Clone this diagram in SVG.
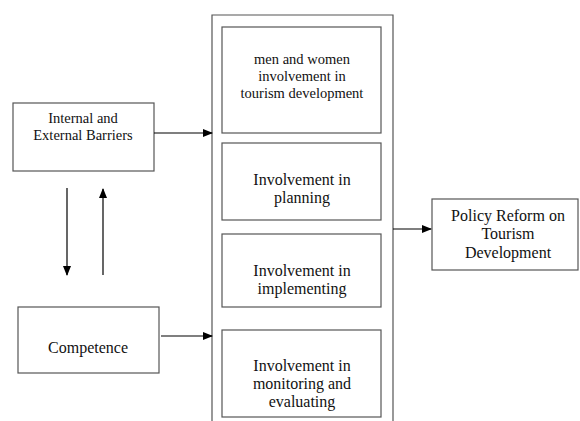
<svg xmlns="http://www.w3.org/2000/svg" width="580" height="421" viewBox="0 0 580 421">
<defs>
<marker id="ah" markerWidth="10" markerHeight="8" refX="9" refY="4" orient="auto" markerUnits="userSpaceOnUse">
<path d="M0,0 L10,4 L0,8 Z" fill="#000"/>
</marker>
<style>
.box{fill:#fff;stroke:#555;stroke-width:1.2}
.t{font-family:"Liberation Serif","Times New Roman",serif;fill:#111;text-anchor:middle}
.s{font-size:14.5px}
.l{font-size:16px}
.c{stroke:#000;stroke-width:1.2;fill:none;marker-end:url(#ah)}
</style>
</defs>
<rect width="580" height="421" fill="#fff"/>
<g id="container"><path class="box" d="M212,421 V15 H393 V421"/></g>
<g id="barriers"><rect class="box" x="13" y="103" width="141" height="68"/>
<text class="t s" x="83" y="123">Internal and</text><text class="t s" x="83" y="140">External Barriers</text></g>
<g id="competence"><rect class="box" x="18" y="307" width="141" height="66"/>
<text class="t l" x="88" y="353">Competence</text></g>
<g id="b1"><rect class="box" x="222" y="27" width="159" height="106"/>
<text class="t s" x="302" y="64">men and women</text><text class="t s" x="302" y="81">involvement in</text><text class="t s" x="302" y="98">tourism development</text></g>
<g id="b2"><rect class="box" x="222" y="143" width="159" height="77"/>
<text class="t l" x="302" y="185">Involvement in</text><text class="t l" x="302" y="203">planning</text></g>
<g id="b3"><rect class="box" x="222" y="234" width="159" height="73"/>
<text class="t l" x="302" y="276">Involvement in</text><text class="t l" x="302" y="294">implementing</text></g>
<g id="b4"><rect class="box" x="222" y="330" width="159" height="87"/>
<text class="t l" x="302" y="371">Involvement in</text><text class="t l" x="302" y="389">monitoring and</text><text class="t l" x="302" y="407">evaluating</text></g>
<g id="policy"><rect class="box" x="432" y="199" width="146" height="71"/>
<text class="t l" x="508" y="221">Policy Reform on</text><text class="t l" x="508" y="239">Tourism</text><text class="t l" x="508" y="258">Development</text></g>
<g id="connectors">
<line class="c" x1="154" y1="133" x2="212" y2="133"/>
<line class="c" x1="161" y1="336" x2="212" y2="336"/>
<line class="c" x1="67" y1="188" x2="67" y2="275"/>
<line class="c" x1="103" y1="275" x2="103" y2="189"/>
<line class="c" x1="393" y1="229" x2="431" y2="229"/>
</g>
</svg>
